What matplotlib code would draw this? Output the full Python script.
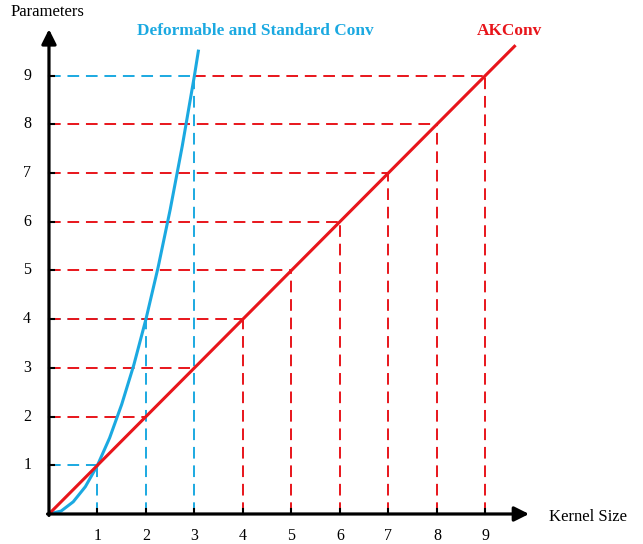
import matplotlib
matplotlib.use("Agg")
import matplotlib.pyplot as plt

# data
kernel_sizes = [1, 2, 3, 4, 5, 6, 7, 8, 9]
akconv_params = [1, 2, 3, 4, 5, 6, 7, 8, 9]
akconv_line_x = [0, 9.6]
akconv_line_y = [0, 9.6]
std_curve_x = [0, 0.25, 0.5, 0.75, 1.0, 1.25, 1.5, 1.75, 2.0, 2.25, 2.5, 2.75, 3.0, 3.08]
std_curve_y = [0, 0.06, 0.25, 0.56, 1.0, 1.56, 2.25, 3.06, 4.0, 5.06, 6.25, 7.56, 9.0, 9.5]
std_points_x = [1, 2, 3]
std_points_y = [1, 4, 9]
xtick_labels = ["1", "2", "3", "4", "5", "6", "7", "8", "9"]
ytick_labels = ["1", "2", "3", "4", "5", "6", "7", "8", "9"]

BLUE = "#1BA9E1"
RED = "#E8151B"
SERIF = ["Liberation Serif", "DejaVu Serif"]

fig = plt.figure(figsize=(6.43, 5.44), dpi=100)
ax = fig.add_axes([0, 0, 1, 1])
ax.set_xlim(-1.01, 12.25)
ax.set_ylim(-0.616, 10.55)
ax.axis("off")

dash = (6, 3.5)
# blue dashed guides
for x, y in zip(std_points_x, std_points_y):
    ax.plot([0, x], [y, y], color=BLUE, lw=1.4, dashes=dash, zorder=2)
    ax.plot([x, x], [0, y], color=BLUE, lw=1.4, dashes=dash, zorder=2)
# red dashed guides
for x, y in zip(kernel_sizes, akconv_params):
    if y >= 2:
        start = 3 if y == 9 else 0
        ax.plot([start, x], [y, y], color=RED, lw=1.4, dashes=dash, zorder=3)
    if x >= 4:
        ax.plot([x, x], [0, y], color=RED, lw=1.4, dashes=dash, zorder=3)

# main curves
ax.plot(std_curve_x, std_curve_y, color=BLUE, lw=2.2, zorder=4)
ax.plot(akconv_line_x, akconv_line_y, color=RED, lw=2.2, zorder=5)

# axes with arrows
ax.annotate("", xy=(9.9, 0), xytext=(-0.03, 0),
            arrowprops=dict(arrowstyle="-|>", lw=2.3, color="black",
                            mutation_scale=22, shrinkA=0, shrinkB=0), zorder=6)
ax.annotate("", xy=(0, 9.95), xytext=(0, -0.03),
            arrowprops=dict(arrowstyle="-|>", lw=2.3, color="black",
                            mutation_scale=22, shrinkA=0, shrinkB=0), zorder=6)

# ticks
for k, lab in zip(kernel_sizes, xtick_labels):
    ax.plot([k, k], [0, 0.1], color="black", lw=1.5, zorder=6)
    ax.text(k, -0.45, lab, ha="center", va="center", fontsize=11.5, family=SERIF)
for k, lab in zip(akconv_params, ytick_labels):
    ax.plot([0, 0.1], [k, k], color="black", lw=1.5, zorder=6)
    ax.text(-0.45, k, lab, ha="center", va="center", fontsize=11.5, family=SERIF)

ax.text(-0.04, 10.3, "Parameters", ha="center", va="center", fontsize=12, family=SERIF)
ax.text(11.11, -0.06, "Kernel Size", ha="center", va="center", fontsize=12, family=SERIF)
ax.text(4.25, 9.92, "Deformable and Standard Conv", ha="center", va="center",
        fontsize=12.4, fontweight="bold", color=BLUE, family=SERIF)
ax.text(9.5, 9.92, "AKConv", ha="center", va="center",
        fontsize=12.4, fontweight="bold", color=RED, family=SERIF)

fig.savefig("out.png", dpi=100)
